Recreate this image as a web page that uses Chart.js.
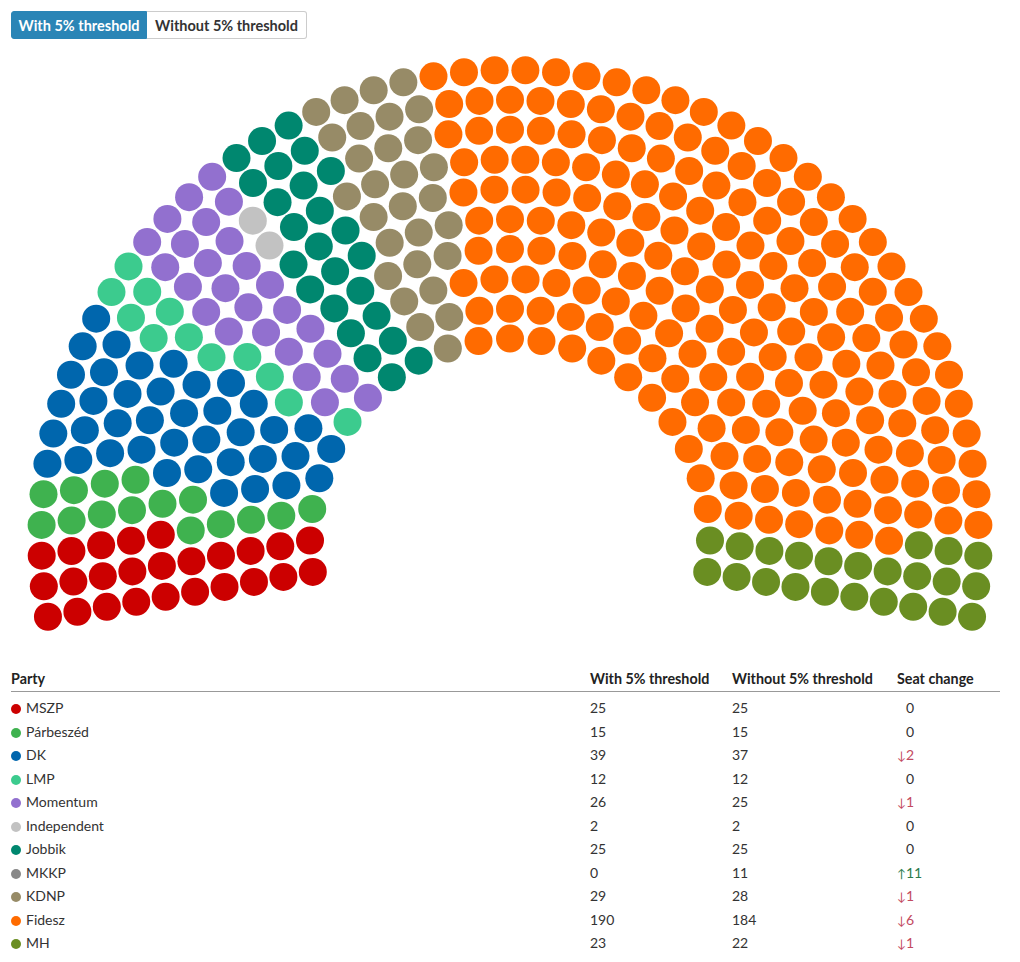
<!DOCTYPE html>
<html>
<head>
<meta charset="utf-8">
<script src="https://cdn.jsdelivr.net/npm/chart.js@4.4.1/dist/chart.umd.min.js"></script>
<style>
  body { margin: 0; background: #fff; font-family: Lato, "Noto Sans", sans-serif; color: #333; }
  .toggle { position: absolute; left: 11px; top: 11px; display: flex; }
  .toggle button {
    font-family: Lato, sans-serif; font-weight: 700; font-size: 14.5px;
    height: 28px; padding: 0; border: 1px solid #ccc; background: #fff; color: #333;
  }
  .toggle button.active { width: 136px; background: #2a85b6; border-color: #2a85b6; color: #fff; border-radius: 3px 0 0 3px; }
  .toggle button.last { width: 160px; border-left: none; border-radius: 0 3px 3px 0; }
  #chartBox { position: absolute; left: 10px; top: 45px; width: 1000px; height: 600px; }

  /* results table */
  .results { position: absolute; left: 11px; top: 667px; width: 989px; font-size: 14px; }
  .row { position: relative; height: 23.5px; line-height: 23.5px; }
  .row span.c { position: absolute; top: 0; white-space: nowrap; }
  .head { height: 24px; line-height: 24px; font-weight: 700; font-size: 14.3px; color: #222; border-bottom: 1px solid #999; margin-bottom: 4px; }
  .c0 { left: 0; } .c1 { left: 579px; } .c2 { left: 721px; } .c3 { left: 886px; }
  .dot { display: inline-block; width: 10px; height: 10px; border-radius: 50%; margin: 0 5px 0 0; vertical-align: -1px; }
  .arrow { display: inline-block; width: 9px; font-size: 12px; }
  .down { color: #c34a5f; }
  .up { color: #2b7a4b; }
</style>
</head>
<body>
<div class="toggle">
  <button class="active">With 5% threshold</button>
  <button class="last">Without 5% threshold</button>
</div>

<div id="chartBox"><canvas id="parliamentChart"></canvas></div>

<div class="results" id="results">
  <div class="row head">
    <span class="c c0">Party</span><span class="c c1">With 5% threshold</span><span class="c c2">Without 5% threshold</span><span class="c c3">Seat change</span>
  </div>
</div>

<script>
// party data
const parties = ['MSZP', 'Párbeszéd', 'DK', 'LMP', 'Momentum', 'Independent', 'Jobbik', 'MKKP', 'KDNP', 'Fidesz', 'MH'];
const seatsWith = [25, 15, 39, 12, 26, 2, 25, 0, 29, 190, 23];
const seatsWithout = [25, 15, 37, 12, 25, 2, 25, 11, 28, 184, 22];
const partyColors = ['#cc0000', '#3fb24f', '#0066ad', '#3ccb8e', '#9270cf', '#c2c2c2', '#00876f', '#888888', '#978b67', '#ff6b00', '#6a8e22'];

// hemicycle layout
const rings = 10;
const innerRadius = 200;
const outerRadius = 468.6;
const overhang = 9.6 * Math.PI / 180;   // arc reaches a bit below horizontal

function layoutSeats(total) {
  const radii = [];
  for (let i = 0; i < rings; i++) {
    radii.push(innerRadius + i * (outerRadius - innerRadius) / (rings - 1));
  }
  const sumR = radii.reduce((a, b) => a + b, 0);
  const counts = radii.map(r => Math.round(total * r / sumR));
  let diff = total - counts.reduce((a, b) => a + b, 0);
  let k = rings - 1;
  while (diff !== 0) {
    counts[k] += Math.sign(diff);
    diff -= Math.sign(diff);
    k = (k - 1 + rings) % rings;
  }

  const start = Math.PI + overhang;
  const span = Math.PI + 2 * overhang;
  const seats = [];
  radii.forEach((r, i) => {
    const n = counts[i];
    for (let j = 0; j < n; j++) {
      const a = start - j * span / (n - 1);
      seats.push({ angle: a, ring: i, x: r * Math.cos(a), y: r * Math.sin(a) });
    }
  });
  seats.sort((p, q) => (q.angle - p.angle) || (p.ring - q.ring));
  return seats;
}

const total = seatsWith.reduce((a, b) => a + b, 0);
const seats = layoutSeats(total);

let pos = 0;
const datasets = parties.map((name, i) => {
  const pts = seats.slice(pos, pos + seatsWith[i]).map(s => ({ x: s.x, y: s.y }));
  pos += seatsWith[i];
  return {
    label: name,
    data: pts,
    backgroundColor: partyColors[i],
    borderWidth: 0,
    pointRadius: 14,
    pointHoverRadius: 14,
    clip: false
  };
});

new Chart(document.getElementById('parliamentChart'), {
  type: 'scatter',
  data: { datasets },
  options: {
    responsive: true,
    maintainAspectRatio: false,
    animation: false,
    layout: { padding: 0, autoPadding: false },
    plugins: { legend: { display: false } },
    scales: {
      x: { type: 'linear', min: -500, max: 500, display: false },
      y: { type: 'linear', min: -106.4, max: 493.6, display: false }
    }
  }
});

// table rows
const results = document.getElementById('results');
parties.forEach((name, i) => {
  const change = seatsWithout[i] - seatsWith[i];
  let changeCell = '<span class="arrow"></span>0';
  if (change > 0) changeCell = '<span class="up"><span class="arrow">↑</span>' + change + '</span>';
  if (change < 0) changeCell = '<span class="down"><span class="arrow">↓</span>' + Math.abs(change) + '</span>';
  const row = document.createElement('div');
  row.className = 'row';
  row.innerHTML =
    '<span class="c c0"><span class="dot" style="background:' + partyColors[i] + '"></span>' + name + '</span>' +
    '<span class="c c1">' + seatsWith[i] + '</span>' +
    '<span class="c c2">' + seatsWithout[i] + '</span>' +
    '<span class="c c3">' + changeCell + '</span>';
  results.appendChild(row);
});
</script>
</body>
</html>
